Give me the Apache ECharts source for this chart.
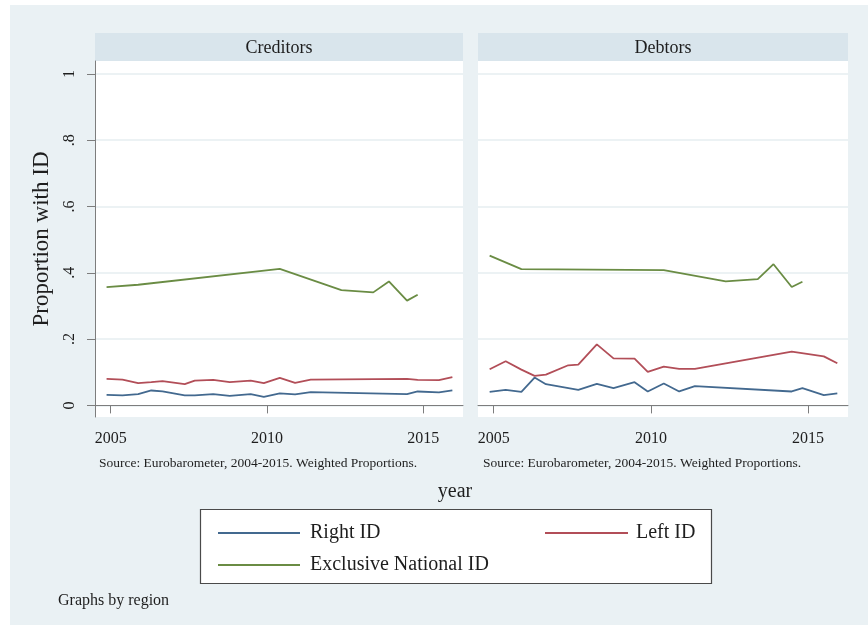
<!DOCTYPE html>
<html>
<head>
<meta charset="utf-8">
<script src="https://cdn.jsdelivr.net/npm/echarts@6/dist/echarts.min.js"></script>
<style>
  html, body { margin: 0; padding: 0; background: #ffffff; }
  #bg { position: absolute; left: 10px; top: 5px; width: 858px; height: 620px; background: #eaf1f4; }
  #chart { position: absolute; left: 0; top: 0; width: 868px; height: 633px; }
</style>
</head>
<body>
<div id="bg"></div>
<div id="chart"></div>
<script>
// Survey waves (decimal year) shared by both regions
const years = [2004.87, 2005.38, 2005.88, 2006.30, 2006.66, 2007.37, 2007.69, 2008.28, 2008.81,
               2009.48, 2009.90, 2010.41, 2010.90, 2011.40, 2012.38, 2013.40, 2013.90, 2014.48,
               2014.82, 2015.50, 2015.93];

// Creditors
const creditorsRight = [0.032, 0.030, 0.034, 0.045, 0.042, 0.030, 0.030, 0.034, 0.029,
                        0.034, 0.026, 0.036, 0.033, 0.040, null, null, null, 0.034,
                        0.042, 0.039, 0.045];
const creditorsLeft = [0.080, 0.078, 0.067, 0.070, 0.073, 0.064, 0.075, 0.077, 0.070,
                       0.075, 0.067, 0.083, 0.068, 0.078, null, null, null, 0.080,
                       0.077, 0.076, 0.085];
const creditorsNational = [0.357, null, 0.364, null, null, null, null, null, null,
                           null, null, 0.412, null, null, 0.348, 0.341, 0.374, 0.316,
                           0.334, null, null];

// Debtors
const debtorsRight = [0.041, 0.047, 0.041, 0.084, 0.064, null, 0.047, 0.065, 0.052,
                      0.070, 0.042, 0.066, 0.042, 0.058, null, null, null, 0.042,
                      0.052, 0.031, 0.036];
const debtorsLeft = [0.109, 0.133, 0.108, 0.089, 0.093, 0.121, 0.123, 0.184, 0.142,
                     0.141, 0.101, 0.117, 0.110, 0.110, null, null, null, 0.162,
                     null, 0.148, 0.127];
const debtorsNational = [0.452, null, 0.411, null, null, null, null, null, null,
                         null, null, 0.408, null, null, 0.374, 0.381, 0.426, 0.357,
                         0.373, null, null];

const panelTitles = ['Creditors', 'Debtors'];
const seriesNames = ['Right ID', 'Left ID', 'Exclusive National ID'];
const xTicks = [2005, 2010, 2015];
const yTicks = [0, 0.2, 0.4, 0.6, 0.8, 1];
const sourceNote = 'Source: Eurobarometer, 2004-2015. Weighted Proportions.';

const SERIF = '"Liberation Serif", "DejaVu Serif", serif';
const TEXT = '#1e1e1e';
const AXIS = '#7d7d7d';
const GRIDLINE = '#e6eef1';
const COLORS = ['#43698f', '#b24e58', '#6a8c44'];

function pairs(vals) {
  return years.map((y, i) => [y, vals[i]]).filter(d => d[1] !== null);
}

function yLabel(v) {
  if (v === 0) return '0';
  if (v === 1) return '1';
  return String(+v.toFixed(1)).replace(/^0/, '');
}

function xAxisFor(gi) {
  return {
    gridIndex: gi, type: 'value', min: 2004.5, max: 2016.27,
    axisLine: { show: true, lineStyle: { color: AXIS, width: 1 } },
    axisTick: { show: true, customValues: xTicks, length: 8, lineStyle: { color: AXIS } },
    axisLabel: { customValues: xTicks, fontFamily: SERIF, fontSize: 16, color: TEXT, margin: 14,
                 formatter: v => String(Math.round(v)) },
    splitLine: { show: false }
  };
}

function yAxisFor(gi, visible) {
  return {
    gridIndex: gi, type: 'value', min: -0.035, max: 1.039,
    name: visible ? 'Proportion with ID' : '',
    nameLocation: 'middle', nameGap: 42,
    nameTextStyle: { fontFamily: SERIF, fontSize: 23, color: TEXT },
    axisLine: { show: visible, lineStyle: { color: AXIS, width: 1 } },
    axisTick: { show: true, customValues: yTicks, length: visible ? 8 : 0,
                lineStyle: { color: visible ? AXIS : 'rgba(0,0,0,0)' } },
    axisLabel: { show: visible, customValues: yTicks, rotate: 90, margin: 17,
                 fontFamily: SERIF, fontSize: 16, color: TEXT, formatter: yLabel },
    splitLine: { show: true, lineStyle: { color: GRIDLINE, width: 1.5 } }
  };
}

function lineSeries(name, vals, gi, color) {
  return {
    type: 'line', name: name, xAxisIndex: gi, yAxisIndex: gi,
    data: pairs(vals), showSymbol: false, symbol: 'none',
    lineStyle: { color: color, width: 1.8 }, itemStyle: { color: color },
    emphasis: { disabled: true }, animation: false
  };
}

const chart = echarts.init(document.getElementById('chart'), null, { renderer: 'canvas' });

chart.setOption({
  backgroundColor: 'transparent',
  animation: false,
  grid: [
    { left: 95, top: 61, width: 368, height: 356, outerBoundsMode: 'none', backgroundColor: '#ffffff', show: true, borderWidth: 0 },
    { left: 478, top: 61, width: 370, height: 356, outerBoundsMode: 'none', backgroundColor: '#ffffff', show: true, borderWidth: 0 }
  ],
  xAxis: [xAxisFor(0), xAxisFor(1)],
  yAxis: [yAxisFor(0, true), yAxisFor(1, false)],
  legend: [
    {
      data: [seriesNames[0], seriesNames[2]], orient: 'vertical', left: 213, top: 517,
      icon: 'rect', itemWidth: 82, itemHeight: 2, itemGap: 10, z: 10,
      selectedMode: false,
      textStyle: { fontFamily: SERIF, fontSize: 20, color: TEXT, lineHeight: 22, padding: [0, 0, 0, 5] }
    },
    {
      data: [seriesNames[1]], orient: 'vertical', left: 540, top: 517,
      icon: 'rect', itemWidth: 83, itemHeight: 2, z: 10,
      selectedMode: false,
      textStyle: { fontFamily: SERIF, fontSize: 20, color: TEXT, lineHeight: 22, padding: [0, 0, 0, 3] }
    }
  ],
  graphic: [
    { type: 'rect', z: 0, shape: { x: 95, y: 33, width: 368, height: 28 }, style: { fill: '#d9e5ec' } },
    { type: 'rect', z: 0, shape: { x: 478, y: 33, width: 370, height: 28 }, style: { fill: '#d9e5ec' } },
    { type: 'text', z: 1, x: 279, y: 48, style: { text: panelTitles[0], font: '18px ' + SERIF, fill: TEXT, textAlign: 'center', textVerticalAlign: 'middle' } },
    { type: 'text', z: 1, x: 663, y: 48, style: { text: panelTitles[1], font: '18px ' + SERIF, fill: TEXT, textAlign: 'center', textVerticalAlign: 'middle' } },
    { type: 'text', z: 1, x: 99, y: 463, style: { text: sourceNote, font: '13.5px ' + SERIF, fill: TEXT, textVerticalAlign: 'middle' } },
    { type: 'text', z: 1, x: 483, y: 463, style: { text: sourceNote, font: '13.5px ' + SERIF, fill: TEXT, textVerticalAlign: 'middle' } },
    { type: 'text', z: 1, x: 455, y: 492, style: { text: 'year', font: '20px ' + SERIF, fill: TEXT, textAlign: 'center', textVerticalAlign: 'middle' } },
    { type: 'rect', z: 0, shape: { x: 200.5, y: 509.5, width: 511, height: 74 }, style: { fill: '#ffffff', stroke: '#4a4a4a', lineWidth: 1.2 } },
    { type: 'text', z: 1, x: 58, y: 601, style: { text: 'Graphs by region', font: '16px ' + SERIF, fill: TEXT, textVerticalAlign: 'middle' } }
  ],
  series: [
    lineSeries(seriesNames[0], creditorsRight, 0, COLORS[0]),
    lineSeries(seriesNames[1], creditorsLeft, 0, COLORS[1]),
    lineSeries(seriesNames[2], creditorsNational, 0, COLORS[2]),
    lineSeries(seriesNames[0], debtorsRight, 1, COLORS[0]),
    lineSeries(seriesNames[1], debtorsLeft, 1, COLORS[1]),
    lineSeries(seriesNames[2], debtorsNational, 1, COLORS[2])
  ]
});
</script>
</body>
</html>
